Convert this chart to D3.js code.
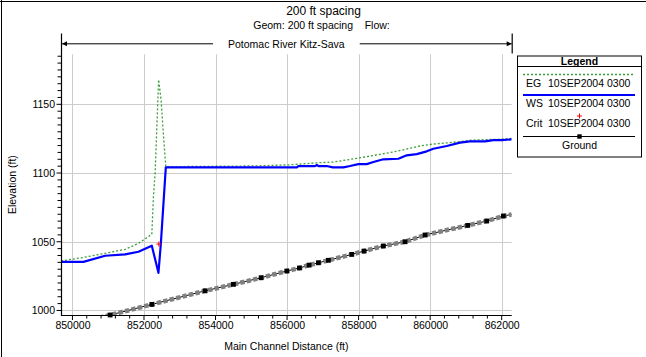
<!DOCTYPE html>
<html>
<head>
<meta charset="utf-8">
<script src="https://cdn.jsdelivr.net/npm/d3@7/dist/d3.min.js"></script>
<style>
  html, body { margin: 0; padding: 0; background: #fff; }
  text { font-family: "Liberation Sans", Arial, sans-serif; fill: #000; }
</style>
</head>
<body>
<svg id="chart" width="646" height="357"></svg>
<script>
// ---------------- data ----------------
const titleText = "200 ft spacing";
const subtitleText = "Geom: 200 ft spacing    Flow:";
const reachText = "Potomac River Kitz-Sava";
const xTitle = "Main Channel Distance (ft)";
const yTitle = "Elevation (ft)";

const xTickValues = [850000, 852000, 854000, 856000, 858000, 860000, 862000];
const yTickValues = [1000, 1050, 1100, 1150];

const wsStations = [849680, 850307, 850914, 851473, 851845, 852219, 852404, 852470, 852610,
  856272, 856317, 856780, 856831, 856876, 857110, 857278, 857574, 857762, 857994, 858228,
  858413, 858692, 859112, 859346, 859626, 859905, 860090, 860465, 860836, 861116, 861535,
  861767, 862002, 862280];
const wsElev = [1035.4, 1035.4, 1039.8, 1040.8, 1042.7, 1047.1, 1027.4, 1048.0, 1104.1,
  1104.1, 1105.0, 1105.0, 1105.8, 1105.1, 1105.1, 1104.1, 1104.1, 1105.1, 1106.5, 1106.5,
  1108.0, 1110.0, 1110.4, 1112.9, 1113.8, 1115.8, 1117.7, 1119.7, 1122.1, 1123.1, 1123.1,
  1124.0, 1124.0, 1124.5];

const egStations = [849680, 850307, 850914, 851473, 851845, 852219, 852264, 852311, 852409,
  852479, 852543, 852610, 855154, 856085, 856876, 857295, 857949, 858600, 859067, 859718,
  860090, 860744, 861208, 861862, 862280];
const egElev = [1036.0, 1038.6, 1041.6, 1044.5, 1048.8, 1055.4, 1082.7, 1099.8, 1168.0,
  1153.0, 1128.0, 1104.6, 1105.2, 1106.0, 1107.5, 1108.0, 1110.7, 1113.6, 1115.8, 1119.7,
  1121.1, 1122.6, 1124.0, 1124.5, 1125.2];

const critStations = [852415];
const critElev = [1048.3];

const groundStations = [849680, 851054, 852219, 853709, 854500, 855274, 855993, 856345,
  856616, 856876, 857155, 857809, 858153, 858692, 859299, 859858, 861051, 861583, 862046, 862280];
const groundElev = [987.6, 996.7, 1004.4, 1014.3, 1019.0, 1023.8, 1028.7, 1030.9,
  1033.0, 1034.7, 1036.5, 1040.8, 1043.2, 1046.9, 1050.0, 1054.9, 1061.9, 1065.1, 1068.7, 1069.9];
const groundIsXS = [true, true, true, true, true, true, true, true, true, true, true, true,
  true, true, true, true, true, true, true, false];

const legendDate = "10SEP2004 0300";
const legendNames = ["EG", "WS", "Crit"];

// ---------------- drawing ----------------
const svg = d3.select("#chart");
const W = 646, H = 357;
const x = d3.scaleLinear().domain([849680, 862280]).range([61, 511.7]);
const y = d3.scaleLinear().domain([996.7, 1186.4]).range([315, 54.3]);
const [x0, x1] = x.range();
const [yb, yt] = y.range();

// outer frame lines (top + left)
svg.append("line").attr("x1", 0).attr("x2", W).attr("y1", 1.5).attr("y2", 1.5)
  .attr("stroke", "#000").attr("stroke-width", 1);
svg.append("line").attr("x1", 1.5).attr("x2", 1.5).attr("y1", 0).attr("y2", H)
  .attr("stroke", "#000").attr("stroke-width", 1);

// titles
svg.append("text").attr("x", 323.5).attr("y", 14.5).attr("text-anchor", "middle")
  .style("font-size", "12px").text(titleText);
svg.append("text").attr("x", 321.5).attr("y", 29).attr("text-anchor", "middle")
  .style("font-size", "10.5px").style("white-space", "pre").text(subtitleText);

// gridlines
const grid = svg.append("g");
grid.selectAll("line.vx").data(xTickValues).join("line")
  .attr("x1", d => Math.round(x(d)) + 0.5).attr("x2", d => Math.round(x(d)) + 0.5)
  .attr("y1", yt).attr("y2", yb)
  .attr("stroke", "#cccccc").attr("stroke-width", 1);
grid.selectAll("line.hy").data(yTickValues).join("line")
  .attr("y1", d => Math.round(y(d)) + 0.5).attr("y2", d => Math.round(y(d)) + 0.5)
  .attr("x1", x0).attr("x2", x1)
  .attr("stroke", "#cccccc").attr("stroke-width", 1);

// clip
svg.append("defs").append("clipPath").attr("id", "plotclip").append("rect")
  .attr("x", x0).attr("y", yt).attr("width", x1 - x0).attr("height", yb - yt);
const plot = svg.append("g").attr("clip-path", "url(#plotclip)");

const lineGen = d3.line().x(d => x(d[0])).y(d => y(d[1]));
const egData = egStations.map((s, i) => [s, egElev[i]]);
const wsData = wsStations.map((s, i) => [s, wsElev[i]]);
const gData = groundStations.map((s, i) => [s, groundElev[i]]);

// ground
plot.append("path").datum(gData).attr("d", lineGen)
  .attr("fill", "none").attr("stroke", "#000").attr("stroke-width", 1);
plot.append("path").datum(gData).attr("d", lineGen)
  .attr("fill", "none").attr("stroke", "#808080").attr("stroke-width", 4.6)
  .attr("stroke-dasharray", "4.4 2.2");
svg.append("g").selectAll("rect").data(gData.filter((d, i) => groundIsXS[i] && d[1] >= y.domain()[0] - 0.5))
  .join("rect")
  .attr("x", d => x(d[0]) - 2.4).attr("y", d => y(d[1]) - 2.4)
  .attr("width", 4.8).attr("height", 4.8).attr("fill", "#000");

// EG
plot.append("path").datum(egData).attr("d", lineGen)
  .attr("fill", "none").attr("stroke", "#3a9e3a").attr("stroke-width", 1.3)
  .attr("stroke-dasharray", "2 2");
// WS
plot.append("path").datum(wsData).attr("d", lineGen)
  .attr("fill", "none").attr("stroke", "#0000ff").attr("stroke-width", 2.2)
  .attr("stroke-linejoin", "round");
// Crit
const critG = svg.append("g");
critStations.forEach((s, i) => {
  const cx = x(s), cy = y(critElev[i]);
  critG.append("line").attr("x1", cx - 2.5).attr("x2", cx + 2.5).attr("y1", cy).attr("y2", cy)
    .attr("stroke", "#ff0000").attr("stroke-width", 1);
  critG.append("line").attr("x1", cx).attr("x2", cx).attr("y1", cy - 2.5).attr("y2", cy + 2.5)
    .attr("stroke", "#ff0000").attr("stroke-width", 1);
});

// x axis
const xAxisG = svg.append("g").attr("transform", `translate(0,${yb})`);
xAxisG.append("line").attr("x1", x0).attr("x2", x1).attr("y1", 0.5).attr("y2", 0.5)
  .attr("stroke", "#000").attr("stroke-width", 1.2);
const xMinor = d3.range(850000, 862001, 400);
xAxisG.selectAll("line.mx").data(xMinor).join("line")
  .attr("x1", d => x(d)).attr("x2", d => x(d)).attr("y1", 0.5)
  .attr("y2", d => xTickValues.includes(d) ? 5 : 3.5)
  .attr("stroke", "#000").attr("stroke-width", 1);
const xAx = d3.axisBottom(x).tickValues(xTickValues).tickSize(0).tickPadding(7)
  .tickFormat(d3.format("d"));
const xl = svg.append("g").attr("transform", `translate(0,${yb})`).call(xAx);
xl.select(".domain").remove();
xl.selectAll("text").style("font-size", "10.5px")
  .style("font-family", '"Liberation Sans", Arial, sans-serif');

// y axis
const yAxisG = svg.append("g");
yAxisG.append("line").attr("x1", x0 + 0.5).attr("x2", x0 + 0.5).attr("y1", 33.5).attr("y2", yb + 1)
  .attr("stroke", "#000").attr("stroke-width", 1.2);
const yMinor = d3.range(1000, 1186, 5);
yAxisG.selectAll("line.my").data(yMinor).join("line")
  .attr("y1", d => y(d)).attr("y2", d => y(d)).attr("x2", x0)
  .attr("x1", d => yTickValues.includes(d) ? x0 - 4.5 : x0 - 3.5)
  .attr("stroke", "#000").attr("stroke-width", 1);
const yAx = d3.axisLeft(y).tickValues(yTickValues).tickSize(0).tickPadding(6)
  .tickFormat(d3.format("d"));
const yl = svg.append("g").attr("transform", `translate(${x0},0)`).call(yAx);
yl.select(".domain").remove();
yl.selectAll("text").style("font-size", "10.5px")
  .style("font-family", '"Liberation Sans", Arial, sans-serif');

// axis titles
svg.append("text").attr("x", (x0 + x1) / 2).attr("y", 350).attr("text-anchor", "middle")
  .style("font-size", "10.5px").text(xTitle);
svg.append("text").attr("transform", `translate(16,${(yt + yb) / 2}) rotate(-90)`)
  .attr("text-anchor", "middle").style("font-size", "10.5px").text(yTitle);

// reach arrow
const ay = 43.8;
const rt = svg.append("text").attr("x", (x0 + x1) / 2).attr("y", ay + 3.8).attr("text-anchor", "middle")
  .style("font-size", "10.5px").text(reachText);
const tw = rt.node().getComputedTextLength();
const gapHalf = tw / 2 + 15;
const cxm = (x0 + x1) / 2;
svg.append("line").attr("x1", x0 + 1).attr("x2", cxm - gapHalf).attr("y1", ay).attr("y2", ay)
  .attr("stroke", "#000").attr("stroke-width", 1);
svg.append("line").attr("x1", cxm + gapHalf).attr("x2", x1).attr("y1", ay).attr("y2", ay)
  .attr("stroke", "#000").attr("stroke-width", 1);
svg.append("path").attr("d", `M${x0 + 1},${ay} l5,-2.5 l0,5 z`).attr("fill", "#000");
svg.append("path").attr("d", `M${x1},${ay} l-5,-2.5 l0,5 z`).attr("fill", "#000");
svg.append("line").attr("x1", x1 + 0.5).attr("x2", x1 + 0.5).attr("y1", 33.5).attr("y2", 53.5)
  .attr("stroke", "#000").attr("stroke-width", 1.2);

// legend
const lg = svg.append("g");
const Lx0 = 517.5, Lx1 = 641.5, Ly0 = 56, Ly1 = 157;
lg.append("rect").attr("x", Lx0).attr("y", Ly0).attr("width", Lx1 - Lx0).attr("height", Ly1 - Ly0)
  .attr("fill", "#fff").attr("stroke", "#000").attr("stroke-width", 1);
lg.append("line").attr("x1", Lx0).attr("x2", Lx1).attr("y1", 66.5).attr("y2", 66.5)
  .attr("stroke", "#000").attr("stroke-width", 1);
const Lc = (Lx0 + Lx1) / 2;
lg.append("text").attr("x", Lc).attr("y", 64.5).attr("text-anchor", "middle")
  .style("font-size", "10.5px").style("font-weight", "bold").text("Legend");
lg.append("line").attr("x1", 523).attr("x2", 635).attr("y1", 74.5).attr("y2", 74.5)
  .attr("stroke", "#3a9e3a").attr("stroke-width", 1.3).attr("stroke-dasharray", "2 2");
lg.append("line").attr("x1", 523).attr("x2", 635).attr("y1", 95).attr("y2", 95)
  .attr("stroke", "#0000ff").attr("stroke-width", 2.2);
lg.append("line").attr("x1", Lc - 2.5).attr("x2", Lc + 2.5).attr("y1", 116).attr("y2", 116)
  .attr("stroke", "#ff0000").attr("stroke-width", 1);
lg.append("line").attr("x1", Lc).attr("x2", Lc).attr("y1", 113.5).attr("y2", 118.5)
  .attr("stroke", "#ff0000").attr("stroke-width", 1);
const rowY = [87, 107, 127];
legendNames.forEach((n, i) => {
  lg.append("text").attr("x", 526).attr("y", rowY[i]).style("font-size", "10.5px").text(n);
  lg.append("text").attr("x", 548).attr("y", rowY[i]).style("font-size", "10.5px").text(legendDate);
});
lg.append("line").attr("x1", 523).attr("x2", 635).attr("y1", 136.5).attr("y2", 136.5)
  .attr("stroke", "#000").attr("stroke-width", 1);
lg.append("rect").attr("x", Lc - 2.2).attr("y", 134.3).attr("width", 4.4).attr("height", 4.4).attr("fill", "#000");
lg.append("text").attr("x", Lc).attr("y", 149).attr("text-anchor", "middle")
  .style("font-size", "10.5px").text("Ground");
</script>
</body>
</html>
